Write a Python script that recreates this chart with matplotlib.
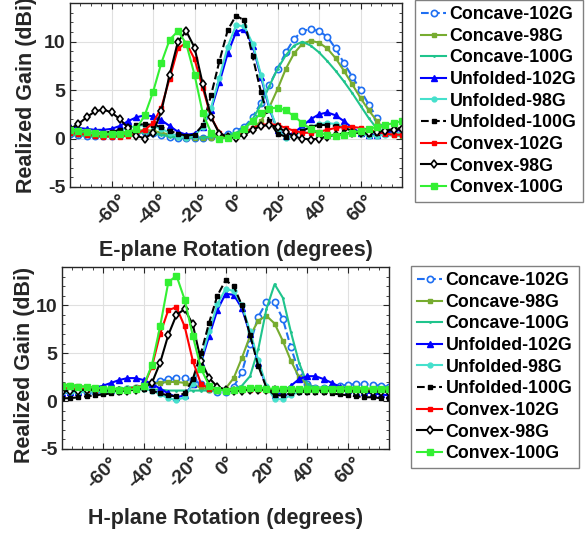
import matplotlib
matplotlib.use("Agg")
import matplotlib.pyplot as plt
from matplotlib.ticker import MultipleLocator, FixedLocator, FixedFormatter

plt.rcParams['font.family'] = ['Liberation Sans', 'DejaVu Sans']
plt.rcParams['font.weight'] = 'bold'
plt.rcParams['axes.unicode_minus'] = False

# rotation angle (degrees), sampled every 4 degrees
angles = list(range(-80, 81, 4))

x_ticks = [-60, -40, -20, 0, 20, 40, 60]
x_tick_labels = ['-60°', '-40°', '-20°', '0°', '20°', '40°', '60°']
y_ticks = [-5, 0, 5, 10]

labels = ['Concave-102G', 'Concave-98G', 'Concave-100G',
          'Unfolded-102G', 'Unfolded-98G', 'Unfolded-100G',
          'Convex-102G', 'Convex-98G', 'Convex-100G']

# E-plane gains (dBi)
e_concave_102 = [0.5,0.4,0.3,0.3,0.3,0.3,0.4,0.5,0.6,0.7, 0.6,0.4,0.2,0.1,0.1,0.1,0.1,0.2,0.3,0.5,
                 0.8,1.2,2.2,3.7,5.5,7.2,8.9,10.3,11.1,11.3, 11.1,10.5,9.3,7.8,6.4,5.0,3.5,2.1,1.0,0.6,0.6]
e_concave_98 = [0.6,0.5,0.4,0.4,0.4,0.5,0.6,0.7,0.8,0.9, 0.8,0.6,0.4,0.2,0.1,0.1,0.1,0.1,0.2,0.3,
                0.4,0.6,1.0,1.8,3.2,5.1,7.2,8.8,9.8,10.1, 9.9,9.3,8.3,7.0,5.6,4.2,2.9,1.8,0.8,0.4,0.3]
e_concave_100 = [0.4,0.3,0.3,0.2,0.2,0.3,0.4,0.5,0.6,0.6, 0.5,0.4,0.2,0.1,0.1,0.1,0.1,0.2,0.3,0.4,
                 0.6,1.1,2.0,3.5,5.4,7.2,8.6,9.6,10.0,9.6, 8.9,8.0,7.0,5.9,4.7,3.4,2.1,1.0,0.4,0.3,0.3]
e_unfolded_102 = [1.2,1.1,1.0,0.9,0.9,1.0,1.3,1.8,2.2,2.4, 2.3,1.9,1.3,0.7,0.4,0.5,1.2,3.0,5.8,8.8,
                  11.0,11.3,9.6,6.4,3.1,0.9,0.3,0.6,1.3,2.0, 2.5,2.7,2.4,1.8,1.1,0.6,0.4,0.4,0.6,0.8,0.9]
e_unfolded_98 = [0.7,0.6,0.5,0.4,0.4,0.5,0.8,1.1,1.3,1.4, 1.3,1.0,0.6,0.2,0.1,0.3,1.2,3.2,6.3,9.5,
                 11.7,11.6,9.8,6.6,3.3,0.9,0.1,0.3,0.8,1.2, 1.5,1.6,1.5,1.2,0.8,0.5,0.3,0.3,0.4,0.5,0.6]
e_unfolded_100 = [0.9,0.8,0.7,0.6,0.6,0.7,0.9,1.2,1.4,1.5, 1.4,1.2,0.8,0.5,0.3,0.4,1.4,4.5,8.0,11.2,
                  12.7,12.2,8.5,4.8,1.8,0.5,0.2,0.4,0.8,1.2, 1.4,1.4,1.3,1.1,0.8,0.6,0.5,0.6,0.8,1.0,1.1]
e_convex_102 = [0.6,0.5,0.4,0.3,0.2,0.2,0.2,0.3,0.5,0.9, 1.6,3.2,6.2,9.3,9.9,8.2,5.2,2.2,0.6,0.1,
                0.2,0.6,1.1,1.4,1.5,1.4,1.1,0.8,0.6,0.6, 0.7,0.9,1.1,1.2,1.2,1.1,0.9,0.7,0.5,0.4,0.4]
e_convex_98 = [1.0,1.5,2.2,2.8,3.0,2.7,2.0,1.1,0.3,0.0, 0.6,2.8,6.6,10.0,11.1,9.4,5.6,2.2,0.5,0.2,
               0.1,0.4,0.9,1.3,1.4,1.2,0.7,0.2,0.0,-0.1, 0.0,0.2,0.4,0.5,0.6,0.6,0.6,0.7,0.8,0.9,1.0]
e_convex_100 = [0.9,0.8,0.7,0.6,0.5,0.5,0.5,0.6,1.0,2.4, 4.8,7.8,10.2,11.1,9.8,6.6,2.6,0.6,0.0,0.1,
                0.4,1.0,1.8,2.6,3.1,3.2,2.9,2.3,1.6,1.0, 0.6,0.4,0.3,0.4,0.6,0.8,1.0,1.2,1.4,1.6,1.8]

# H-plane gains (dBi)
h_concave_102 = [1.3,1.2,1.1,1.0,1.0,1.0,1.1,1.2,1.3,1.4, 1.6,1.8,2.1,2.3,2.4,2.4,2.2,1.8,1.3,1.0,
                 1.0,1.5,3.0,6.0,8.8,10.3,10.3,8.6,5.6,3.0, 1.8,1.4,1.4,1.5,1.6,1.7,1.8,1.8,1.7,1.6,1.5]
h_concave_98 = [1.7,1.7,1.6,1.5,1.4,1.3,1.3,1.3,1.4,1.5, 1.6,1.8,1.9,2.0,2.0,1.9,1.7,1.4,1.2,1.1,
                1.3,2.4,4.5,6.8,8.4,8.9,8.1,6.3,4.2,2.5, 1.7,1.4,1.4,1.4,1.4,1.4,1.4,1.3,1.3,1.3,1.3]
h_concave_100 = [1.3,1.3,1.3,1.2,1.2,1.2,1.2,1.2,1.2,1.2, 1.2,1.2,1.2,1.1,1.1,1.1,1.1,1.1,1.1,1.1,
                 1.2,1.3,1.6,2.6,5.4,9.6,12.2,10.8,7.2,4.0, 1.8,1.3,1.2,1.2,1.2,1.2,1.2,1.2,1.2,1.2,1.2]
h_unfolded_102 = [0.8,0.9,1.0,1.2,1.4,1.6,1.9,2.2,2.4,2.4, 2.2,1.8,1.3,0.8,0.4,0.6,1.8,4.0,6.8,9.5,
                  11.2,11.1,9.7,7.0,4.0,1.5,0.6,0.9,1.6,2.3, 2.6,2.6,2.3,1.9,1.5,1.2,1.0,0.9,0.8,0.7,0.6]
h_unfolded_98 = [0.9,0.9,0.9,1.0,1.0,1.1,1.2,1.3,1.4,1.4, 1.3,1.1,0.7,0.3,0.1,0.4,1.8,4.3,7.3,10.1,
                 11.7,11.5,10.0,7.3,4.3,1.6,0.2,0.2,0.6,1.0, 1.3,1.4,1.4,1.3,1.2,1.1,1.1,1.1,1.1,1.1,1.1]
h_unfolded_100 = [0.3,0.3,0.4,0.5,0.6,0.7,0.8,1.0,1.2,1.3, 1.3,1.1,0.8,0.6,0.5,0.8,2.3,5.0,8.2,11.0,
                  12.6,12.0,10.0,6.9,3.7,1.4,0.6,0.6,0.8,0.9, 1.0,1.0,0.9,0.8,0.7,0.6,0.5,0.4,0.4,0.3,0.3]
h_convex_102 = [1.4,1.3,1.3,1.2,1.2,1.2,1.2,1.2,1.3,1.4, 1.6,3.6,7.0,9.5,9.8,7.8,4.2,1.8,1.3,1.2,
                1.2,1.2,1.2,1.2,1.2,1.2,1.2,1.2,1.2,1.2, 1.2,1.2,1.2,1.2,1.2,1.2,1.2,1.2,1.2,1.2,1.2]
h_convex_98 = [1.0,1.1,1.1,1.2,1.2,1.2,1.1,1.1,1.1,1.2, 1.4,1.9,4.0,6.9,9.0,9.6,8.0,4.2,2.4,1.5,
               1.2,1.1,1.1,1.2,1.2,1.2,1.2,1.1,1.1,1.1, 1.1,1.1,1.1,1.1,1.1,1.1,1.0,1.0,1.0,1.0,1.0]
h_convex_100 = [1.6,1.6,1.5,1.5,1.4,1.3,1.3,1.2,1.2,1.3, 1.6,3.8,7.8,12.4,13.1,10.6,6.8,3.4,1.6,1.2,
                1.1,1.2,1.3,1.4,1.4,1.3,1.3,1.3,1.3,1.3, 1.3,1.3,1.3,1.3,1.3,1.3,1.3,1.3,1.3,1.3,1.3]

e_data = [e_concave_102, e_concave_98, e_concave_100, e_unfolded_102, e_unfolded_98,
          e_unfolded_100, e_convex_102, e_convex_98, e_convex_100]
h_data = [h_concave_102, h_concave_98, h_concave_100, h_unfolded_102, h_unfolded_98,
          h_unfolded_100, h_convex_102, h_convex_98, h_convex_100]

# line styles for each series
styles = [
    dict(color='#1f6ff2', ls='--', marker='o', ms=4.5, mfc='white', mew=1.2),
    dict(color='#77ac30', ls='-', marker='s', ms=2.2),
    dict(color='#1fc48c', ls='-', marker='.', ms=2),
    dict(color='#0000ff', ls='-', marker='^', ms=4.5),
    dict(color='#45e0cc', ls='-', marker='o', ms=3.5),
    dict(color='black', ls='--', marker='s', ms=2.2),
    dict(color='#ff0000', ls='-', marker='s', ms=3.5),
    dict(color='black', ls='-', marker='d', ms=4.5, mfc='white', mew=1.2),
    dict(color='#33f033', ls='-', marker='s', ms=3.8),
]

fig = plt.figure(figsize=(5.85, 5.33), dpi=100)
ax1 = fig.add_axes([0.1197, 0.6492, 0.5675, 0.3452])
ax2 = fig.add_axes([0.106, 0.1576, 0.559, 0.3415])

text_col = '#262626'

for ax, data, xlab, lx, ly, xly, leg_pos in [
        (ax1, e_data, 'E-plane Rotation (degrees)', -0.10, 0.5, -0.29, (0.7094, 1.0)),
        (ax2, h_data, 'H-plane Rotation (degrees)', -0.083, 0.46, -0.325, (0.7026, 0.501))]:
    for vals, lab, st in zip(data, labels, styles):
        ax.plot(angles, vals, lw=1.5, label=lab, **st)
    ax.set_xlim(-80, 80)
    ax.set_ylim(-5, 14)
    ax.xaxis.set_major_locator(FixedLocator(x_ticks))
    ax.xaxis.set_major_formatter(FixedFormatter(x_tick_labels))
    ax.set_yticks(y_ticks)
    ax.xaxis.set_minor_locator(MultipleLocator(5))
    ax.yaxis.set_minor_locator(MultipleLocator(1))
    ax.tick_params(which='both', direction='in', top=True, right=True,
                   colors=text_col, labelsize=14)
    ax.tick_params(which='major', length=4)
    ax.tick_params(which='minor', length=2)
    for t in ax.get_xticklabels():
        t.set_rotation(45)
        t.set_fontweight('bold')
    for t in ax.get_yticklabels():
        t.set_fontweight('bold')
    ax.grid(True, which='major', color='#e0e0e0', lw=0.8)
    ax.set_axisbelow(True)
    for s in ax.spines.values():
        s.set_color(text_col)
        s.set_linewidth(1.0)
    ax.set_xlabel(xlab, fontsize=15.5, fontweight='bold', color=text_col)
    ax.set_ylabel('Realized Gain (dBi)', fontsize=15.5, fontweight='bold', color=text_col)
    ax.xaxis.set_label_coords(0.5, xly)
    ax.yaxis.set_label_coords(lx, ly)
    leg = fig.legend(*ax.get_legend_handles_labels(), loc='upper left',
                     bbox_to_anchor=leg_pos, bbox_transform=fig.transFigure,
                     fontsize=12.8, fancybox=False, edgecolor='#808080',
                     borderaxespad=0, handlelength=1.4, handletextpad=0.2,
                     labelspacing=0.26, borderpad=0.35, framealpha=1)
    leg.get_frame().set_linewidth(1.0)
    for t in leg.get_texts():
        t.set_fontweight('bold')

fig.savefig('out.png', dpi=100)
